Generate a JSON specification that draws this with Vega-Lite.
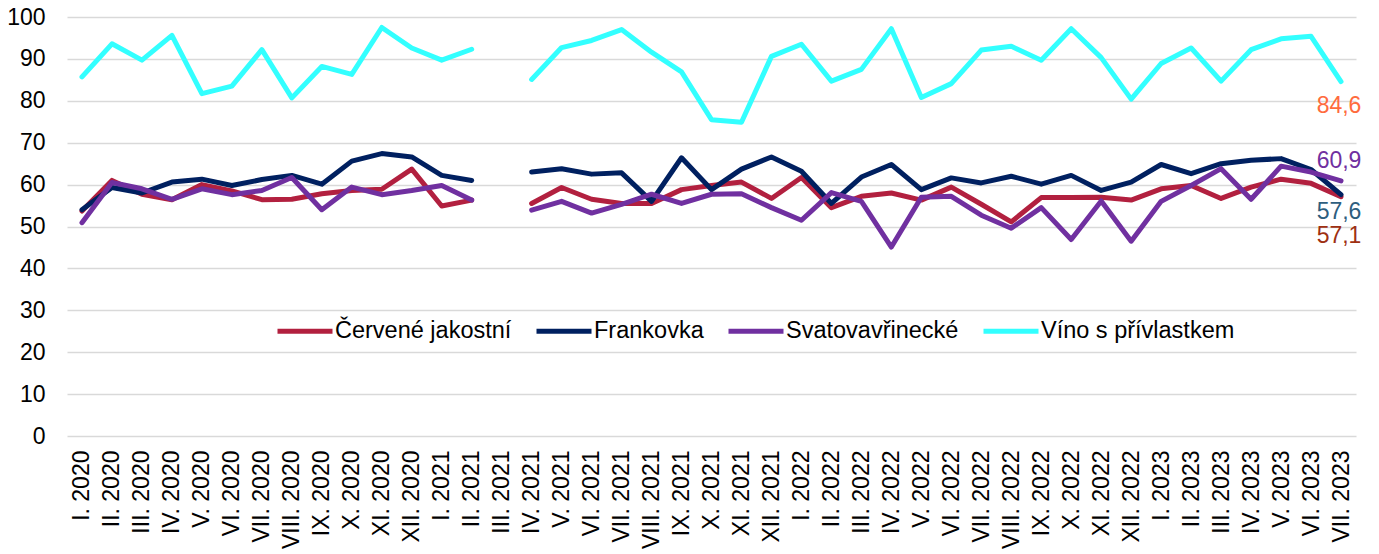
{
  "$schema": "https://vega.github.io/schema/vega-lite/v6.json",
  "width": 1289,
  "height": 419,
  "autosize": {"type": "none"},
  "padding": {"left": 67, "top": 17, "right": 23, "bottom": 118},
  "background": "white",
  "config": {
    "font": "Liberation Sans",
    "view": {"stroke": null},
    "locale": {"number": {"decimal": ",", "thousands": " ", "grouping": [3], "currency": ["", " Kč"]}}
  },
  "data": {
    "values": [
      {"m": "I. 2020", "Červené jakostní": 53.7, "Frankovka": 54.0, "Svatovavřinecké": 50.9, "Víno s přívlastkem": 85.7},
      {"m": "II. 2020", "Červené jakostní": 61.0, "Frankovka": 59.3, "Svatovavřinecké": 60.5, "Víno s přívlastkem": 93.6},
      {"m": "III. 2020", "Červené jakostní": 57.7, "Frankovka": 58.0, "Svatovavřinecké": 59.0, "Víno s přívlastkem": 89.7},
      {"m": "IV. 2020", "Červené jakostní": 56.4, "Frankovka": 60.6, "Svatovavřinecké": 56.5, "Víno s přívlastkem": 95.6},
      {"m": "V. 2020", "Červené jakostní": 60.0, "Frankovka": 61.3, "Svatovavřinecké": 59.0, "Víno s přívlastkem": 81.7},
      {"m": "VI. 2020", "Červené jakostní": 58.5, "Frankovka": 59.8, "Svatovavřinecké": 57.6, "Víno s přívlastkem": 83.5},
      {"m": "VII. 2020", "Červené jakostní": 56.4, "Frankovka": 61.2, "Svatovavřinecké": 58.6, "Víno s přívlastkem": 92.2},
      {"m": "VIII. 2020", "Červené jakostní": 56.5, "Frankovka": 62.2, "Svatovavřinecké": 61.7, "Víno s přívlastkem": 80.7},
      {"m": "IX. 2020", "Červené jakostní": 57.8, "Frankovka": 60.1, "Svatovavřinecké": 54.0, "Víno s přívlastkem": 88.2},
      {"m": "X. 2020", "Červené jakostní": 58.6, "Frankovka": 65.6, "Svatovavřinecké": 59.4, "Víno s přívlastkem": 86.3},
      {"m": "XI. 2020", "Červené jakostní": 58.9, "Frankovka": 67.4, "Svatovavřinecké": 57.6, "Víno s přívlastkem": 97.5},
      {"m": "XII. 2020", "Červené jakostní": 63.7, "Frankovka": 66.6, "Svatovavřinecké": 58.6, "Víno s přívlastkem": 92.6},
      {"m": "I. 2021", "Červené jakostní": 54.9, "Frankovka": 62.2, "Svatovavřinecké": 59.8, "Víno s přívlastkem": 89.7},
      {"m": "II. 2021", "Červené jakostní": 56.3, "Frankovka": 61.0, "Svatovavřinecké": 56.3, "Víno s přívlastkem": 92.3},
      {"m": "III. 2021", "Červené jakostní": null, "Frankovka": null, "Svatovavřinecké": null, "Víno s přívlastkem": null},
      {"m": "IV. 2021", "Červené jakostní": 55.5, "Frankovka": 63.0, "Svatovavřinecké": 53.9, "Víno s přívlastkem": 85.1},
      {"m": "V. 2021", "Červené jakostní": 59.3, "Frankovka": 63.8, "Svatovavřinecké": 56.0, "Víno s přívlastkem": 92.7},
      {"m": "VI. 2021", "Červené jakostní": 56.5, "Frankovka": 62.5, "Svatovavřinecké": 53.2, "Víno s přívlastkem": 94.4},
      {"m": "VII. 2021", "Červené jakostní": 55.5, "Frankovka": 62.8, "Svatovavřinecké": 55.3, "Víno s přívlastkem": 97.0},
      {"m": "VIII. 2021", "Červené jakostní": 55.5, "Frankovka": 56.0, "Svatovavřinecké": 57.7, "Víno s přívlastkem": 91.6},
      {"m": "IX. 2021", "Červené jakostní": 58.8, "Frankovka": 66.4, "Svatovavřinecké": 55.5, "Víno s přívlastkem": 86.9},
      {"m": "X. 2021", "Červené jakostní": 59.8, "Frankovka": 58.8, "Svatovavřinecké": 57.7, "Víno s přívlastkem": 75.5},
      {"m": "XI. 2021", "Červené jakostní": 60.6, "Frankovka": 63.7, "Svatovavřinecké": 57.8, "Víno s přívlastkem": 74.9},
      {"m": "XII. 2021", "Červené jakostní": 56.7, "Frankovka": 66.6, "Svatovavřinecké": 54.5, "Víno s přívlastkem": 90.6},
      {"m": "I. 2022", "Červené jakostní": 61.7, "Frankovka": 63.2, "Svatovavřinecké": 51.5, "Víno s přívlastkem": 93.5},
      {"m": "II. 2022", "Červené jakostní": 54.5, "Frankovka": 55.5, "Svatovavřinecké": 58.1, "Víno s přívlastkem": 84.7},
      {"m": "III. 2022", "Červené jakostní": 57.2, "Frankovka": 61.8, "Svatovavřinecké": 56.0, "Víno s přívlastkem": 87.5},
      {"m": "IV. 2022", "Červené jakostní": 58.0, "Frankovka": 64.8, "Svatovavřinecké": 45.1, "Víno s přívlastkem": 97.2},
      {"m": "V. 2022", "Červené jakostní": 56.3, "Frankovka": 58.8, "Svatovavřinecké": 57.0, "Víno s přívlastkem": 80.8},
      {"m": "VI. 2022", "Červené jakostní": 59.4, "Frankovka": 61.6, "Svatovavřinecké": 57.2, "Víno s přívlastkem": 84.1},
      {"m": "VII. 2022", "Červené jakostní": 55.3, "Frankovka": 60.4, "Svatovavřinecké": 52.7, "Víno s přívlastkem": 92.1},
      {"m": "VIII. 2022", "Červené jakostní": 51.1, "Frankovka": 62.0, "Svatovavřinecké": 49.6, "Víno s přívlastkem": 93.0},
      {"m": "IX. 2022", "Červené jakostní": 56.9, "Frankovka": 60.1, "Svatovavřinecké": 54.5, "Víno s přívlastkem": 89.7},
      {"m": "X. 2022", "Červené jakostní": 56.9, "Frankovka": 62.2, "Svatovavřinecké": 46.9, "Víno s přívlastkem": 97.2},
      {"m": "XI. 2022", "Červené jakostní": 57.0, "Frankovka": 58.6, "Svatovavřinecké": 56.1, "Víno s přívlastkem": 90.3},
      {"m": "XII. 2022", "Červené jakostní": 56.3, "Frankovka": 60.6, "Svatovavřinecké": 46.5, "Víno s přívlastkem": 80.4},
      {"m": "I. 2023", "Červené jakostní": 59.0, "Frankovka": 64.8, "Svatovavřinecké": 56.0, "Víno s přívlastkem": 88.9},
      {"m": "II. 2023", "Červené jakostní": 59.8, "Frankovka": 62.6, "Svatovavřinecké": 59.8, "Víno s přívlastkem": 92.6},
      {"m": "III. 2023", "Červené jakostní": 56.7, "Frankovka": 65.0, "Svatovavřinecké": 63.8, "Víno s přívlastkem": 84.7},
      {"m": "IV. 2023", "Červené jakostní": 59.4, "Frankovka": 65.8, "Svatovavřinecké": 56.5, "Víno s přívlastkem": 92.2},
      {"m": "V. 2023", "Červené jakostní": 61.3, "Frankovka": 66.2, "Svatovavřinecké": 64.4, "Víno s přívlastkem": 94.8},
      {"m": "VI. 2023", "Červené jakostní": 60.3, "Frankovka": 63.6, "Svatovavřinecké": 63.0, "Víno s přívlastkem": 95.4},
      {"m": "VII. 2023", "Červené jakostní": 57.1, "Frankovka": 57.6, "Svatovavřinecké": 60.9, "Víno s přívlastkem": 84.6}
    ]
  },
  "transform": [
    {"fold": ["Červené jakostní", "Frankovka", "Svatovavřinecké", "Víno s přívlastkem"], "as": ["serie", "hodnota"]}
  ],
  "encoding": {
    "x": {
      "field": "m", "type": "ordinal",
      "scale": {"domain": ["I. 2020","II. 2020","III. 2020","IV. 2020","V. 2020","VI. 2020","VII. 2020","VIII. 2020","IX. 2020","X. 2020","XI. 2020","XII. 2020","I. 2021","II. 2021","III. 2021","IV. 2021","V. 2021","VI. 2021","VII. 2021","VIII. 2021","IX. 2021","X. 2021","XI. 2021","XII. 2021","I. 2022","II. 2022","III. 2022","IV. 2022","V. 2022","VI. 2022","VII. 2022","VIII. 2022","IX. 2022","X. 2022","XI. 2022","XII. 2022","I. 2023","II. 2023","III. 2023","IV. 2023","V. 2023","VI. 2023","VII. 2023"]},
      "axis": {"title": null, "labelAngle": -90, "labelFontSize": 23, "labelColor": "#000000", "labelPadding": 14, "ticks": false, "domain": false, "grid": false, "labelFont": "Liberation Sans"}
    },
    "y": {
      "field": "hodnota", "type": "quantitative",
      "scale": {"domain": [0, 100], "nice": false, "zero": true},
      "axis": {"title": null, "values": [0,10,20,30,40,50,60,70,80,90,100], "labelFontSize": 23, "labelColor": "#000000", "labelPadding": 22, "ticks": false, "domain": false, "grid": true, "gridColor": "#D9D9D9", "gridWidth": 1.5, "labelFont": "Liberation Sans"}
    }
  },
  "layer": [
    {
      "mark": {"type": "line", "strokeWidth": 5, "strokeCap": "round", "strokeJoin": "round", "invalid": "break-paths-show-domains"},
      "encoding": {
        "color": {
          "field": "serie", "type": "nominal",
          "scale": {"domain": ["Červené jakostní", "Frankovka", "Svatovavřinecké", "Víno s přívlastkem"], "range": ["#B2203F", "#002060", "#7030A0", "#33FFFF"]},
          "legend": {"title": null, "orient": "none", "legendX": 208, "legendY": 284, "direction": "horizontal", "symbolType": "stroke", "symbolStrokeWidth": 5, "symbolSize": 3025, "labelFontSize": 23.5, "labelFont": "Liberation Sans", "labelColor": "#000000", "labelLimit": 0, "labelOffset": 0, "columnPadding": 14, "padding": 0}
        }
      }
    },
    {
      "transform": [{"filter": "datum.m === 'VII. 2023' && datum.serie === 'Víno s přívlastkem'"}],
      "mark": {"type": "text", "fontSize": 23, "font": "Liberation Sans", "color": "#FF6B3D", "align": "center", "baseline": "middle", "dx": -2, "dy": 24},
      "encoding": {"text": {"field": "hodnota", "type": "quantitative", "format": ".1f"}}
    },
    {
      "transform": [{"filter": "datum.m === 'VII. 2023' && datum.serie === 'Svatovavřinecké'"}],
      "mark": {"type": "text", "fontSize": 23, "font": "Liberation Sans", "color": "#7030A0", "align": "center", "baseline": "middle", "dx": -2, "dy": -20},
      "encoding": {"text": {"field": "hodnota", "type": "quantitative", "format": ".1f"}}
    },
    {
      "transform": [{"filter": "datum.m === 'VII. 2023' && datum.serie === 'Frankovka'"}],
      "mark": {"type": "text", "fontSize": 23, "font": "Liberation Sans", "color": "#2E5E7E", "align": "center", "baseline": "middle", "dx": -2, "dy": 17},
      "encoding": {"text": {"field": "hodnota", "type": "quantitative", "format": ".1f"}}
    },
    {
      "transform": [{"filter": "datum.m === 'VII. 2023' && datum.serie === 'Červené jakostní'"}],
      "mark": {"type": "text", "fontSize": 23, "font": "Liberation Sans", "color": "#9E3012", "align": "center", "baseline": "middle", "dx": -2, "dy": 39},
      "encoding": {"text": {"field": "hodnota", "type": "quantitative", "format": ".1f"}}
    }
  ]
}
